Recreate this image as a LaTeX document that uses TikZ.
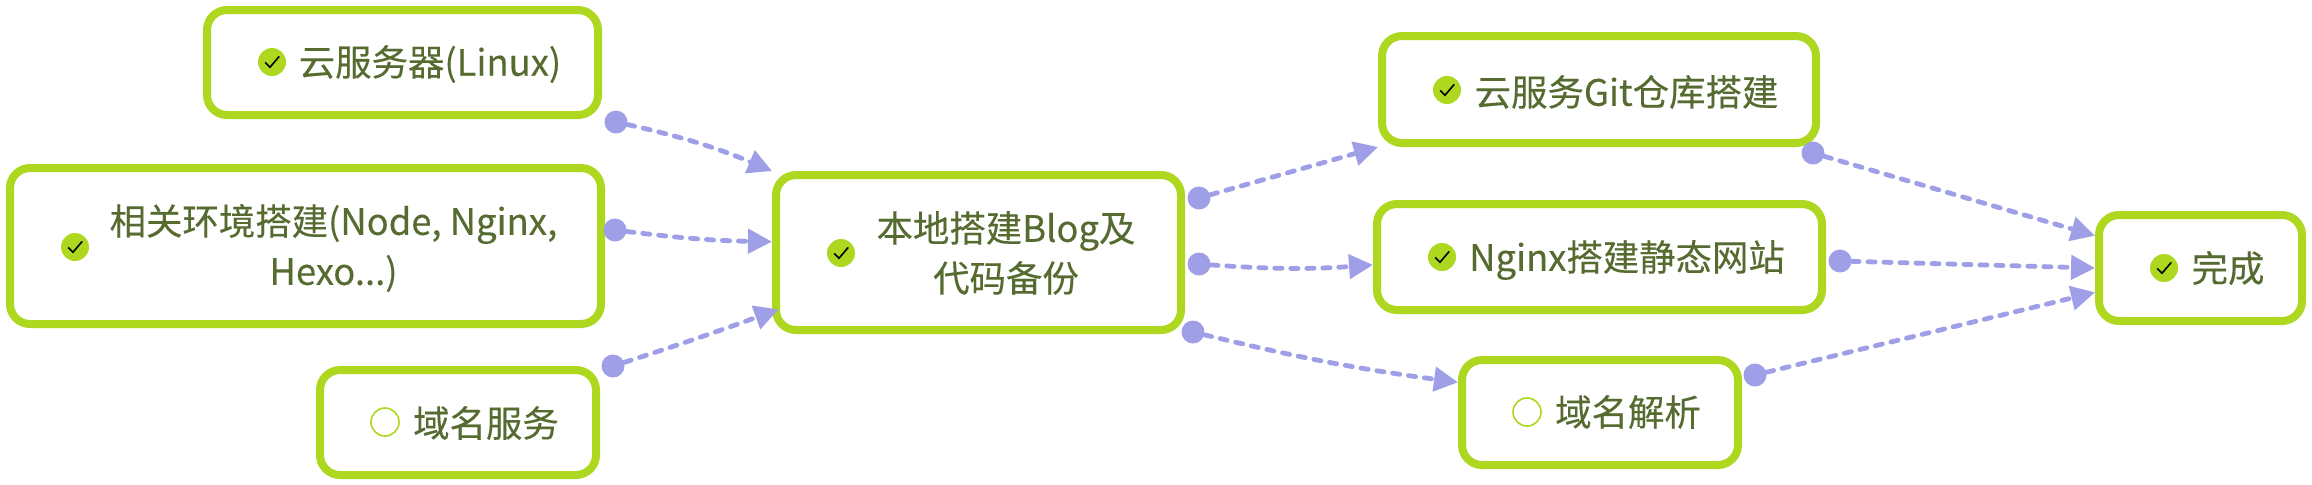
\documentclass[tikz,border=0pt]{standalone}
\usepackage{xcolor}
\usepackage{fontspec}
\setmainfont{Noto Sans CJK SC}[FakeBold=0.25]
\usepackage{tikz}
\usetikzlibrary{arrows.meta}
\definecolor{boxgreen}{HTML}{ADD81F}
\definecolor{textgreen}{HTML}{556B2F}
\definecolor{flowblue}{HTML}{9F9FE8}
\tikzset{>={Triangle[length=12pt,width=12pt]}}
\tikzset{
  stagebox/.style={draw=boxgreen,fill=white,line width=4pt,rounded corners=10pt,inner sep=0pt},
  stagetext/.style={text=textgreen,font=\fontsize{18.2}{25}\selectfont,align=center,inner sep=0pt},
  flowdot/.style={circle,fill=flowblue,minimum size=11.5pt,inner sep=0pt},
  flow/.style={->,draw=flowblue,line width=2.4pt,line cap=round,dash pattern=on 3.6pt off 4.4pt},
  donemark/.style={circle,fill=boxgreen,minimum size=14pt,inner sep=0pt,
    path picture={\draw[black,line width=0.8pt] (-3.4pt,-0.2pt) -- (-1pt,-2.6pt) -- (3.6pt,2.8pt);}},
  openmark/.style={circle,draw=boxgreen,fill=white,line width=0.8pt,minimum size=14pt,inner sep=0pt}
}
\begin{document}
\begin{tikzpicture}[x=0.5pt,y=-0.5pt]
  \useasboundingbox (0,0) rectangle (2312,484);
  % boxes
  \node[stagebox,minimum width=195.5pt,minimum height=52.5pt] (cloud) at (402.5,62.5) {};
  \node[stagebox,minimum width=295.5pt,minimum height=78pt] (env) at (305.5,246) {};
  \node[stagebox,minimum width=138pt,minimum height=52.5pt] (dns) at (458,422.5) {};
  \node[stagebox,minimum width=202.5pt,minimum height=77.5pt] (blog) at (978.5,252.5) {};
  \node[stagebox,minimum width=217pt,minimum height=53.5pt] (git) at (1599,89.5) {};
  \node[stagebox,minimum width=222.5pt,minimum height=53pt] (nginx) at (1599.5,257) {};
  \node[stagebox,minimum width=138pt,minimum height=52.5pt] (resolve) at (1600,412.5) {};
  \node[stagebox,minimum width=101.5pt,minimum height=53pt] (finish) at (2200.5,268) {};
  % labels
  \node[stagetext] (cloudtext) at (430,64) {云服务器(Linux)};
  \node[stagetext] (envtext) at (333.5,248) {相关环境搭建(Node, Nginx,\\Hexo...)};
  \node[stagetext] (dnstext) at (486,423) {域名服务};
  \node[stagetext] (blogtext) at (1006,253) {本地搭建Blog及\\代码备份};
  \node[stagetext] (gittext) at (1626.5,92) {云服务Git仓库搭建};
  \node[stagetext] (nginxtext) at (1627,260) {Nginx搭建静态网站};
  \node[stagetext] (resolvetext) at (1628,412) {域名解析};
  \node[stagetext] (finishtext) at (2228,268) {完成};
  % marks
  \node[donemark] (cloudmark) at (272,62) {};
  \node[donemark] (envmark) at (75,247) {};
  \node[openmark] (dnsmark) at (385,422) {};
  \node[donemark] (blogmark) at (841,253) {};
  \node[donemark] (gitmark) at (1447,90) {};
  \node[donemark] (nginxmark) at (1442,257) {};
  \node[openmark] (resolvemark) at (1527,412) {};
  \node[donemark] (finishmark) at (2164,268) {};
  % dots
  \node[flowdot] (clouddot) at (616,122) {};
  \node[flowdot] (envdot) at (615,230) {};
  \node[flowdot] (dnsdot) at (613,366) {};
  \node[flowdot] (blogdota) at (1199,198) {};
  \node[flowdot] (blogdotb) at (1199,264) {};
  \node[flowdot] (blogdotc) at (1193,332) {};
  \node[flowdot] (gitdot) at (1813,153) {};
  \node[flowdot] (nginxdot) at (1840,261) {};
  \node[flowdot] (resolvedot) at (1755,375) {};
  % connectors
  \draw[flow] (clouddot) to[bend left=5] (blog.north west);
  \draw[flow] (envdot) to[bend right=3] (blog.177.4);
  \draw[flow,shorten >=-3.5pt] (dnsdot) to[bend right=1] (blog.196);
  \draw[flow] (blogdota) to (git.south west);
  \draw[flow] (blogdotb) to[bend right=4] (nginx.182);
  \draw[flow] (blogdotc) to[bend right=3] (resolve.168.3);
  \draw[flow] (gitdot) to (finish.163);
  \draw[flow] (nginxdot) to (finish.west);
  \draw[flow] (resolvedot) to (finish.193.3);
\end{tikzpicture}
\end{document}
